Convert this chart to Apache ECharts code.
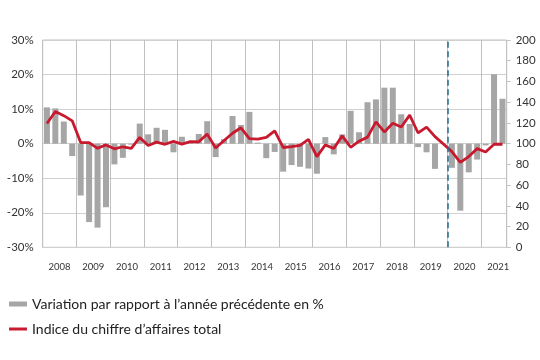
<!DOCTYPE html>
<html>
<head>
<meta charset="utf-8">
<script src="https://cdn.jsdelivr.net/npm/echarts@6/dist/echarts.min.js"></script>
<style>html,body{margin:0;padding:0;background:#fff;}#c{width:540px;height:360px;}</style>
</head>
<body>
<div id="c"></div>
<script>
const years = ['2008','2009','2010','2011','2012','2013','2014','2015','2016','2017','2018','2019','2020','2021'];
const quarters = [];
years.forEach(y => { for (let q = 1; q <= 4; q++) { if (y === '2021' && q > 3) break; quarters.push(y + '-T' + q); } });

const barName = 'Variation par rapport à l’année précédente en %';
const lineName = 'Indice du chiffre d’affaires total';

const changePct = [
  10.5, 10.2, 6.4, -3.6,
  -15.0, -22.7, -24.3, -18.4,
  -6.0, -4.1, -0.3, 5.8,
  2.7, 4.6, 4.0, -2.5,
  2.0, 0.2, 2.8, 6.5,
  -3.9, 1.3, 8.0, 5.4,
  9.2, 0.3, -4.2, -2.4,
  -8.1, -6.2, -6.7, -7.2,
  -8.7, 1.9, -3.1, 2.7,
  9.5, 3.3, 12.0, 12.8,
  16.2, 16.2, 8.5, 5.7,
  -1.0, -2.5, -7.3, 0,
  -7.0, -19.4, -8.3, -4.6,
  -0.5, 20.1, 13.0
];

const turnoverIndex = [
  119.5, 131, 127, 122,
  101, 101, 95.5, 98.8,
  95, 97, 95.5, 106,
  98.2, 101.5, 99.4, 102.2,
  99.6, 102, 101.8, 109.2,
  95.8, 103, 110, 115.3,
  104.8, 104.3, 106, 112.4,
  96.3, 97.1, 98.4, 104.2,
  87.5, 98.8, 95.3, 107.5,
  96.5, 102.4, 106.3, 121,
  111.3, 119.6, 116, 127.5,
  110.3, 116, 106.8, 99.7,
  92.3, 82, 87.5, 95.2,
  92, 99.4, 99.4
];

const pctTicks = { min: -30, max: 30, step: 10 };
const idxTicks = { min: 0, max: 200, step: 20 };
const breakQuarterIndex = 48; // start of 2020

const font = 'Lato';
const chart = echarts.init(document.getElementById('c'), null, { renderer: 'canvas' });
chart.setOption({
  animation: false,
  backgroundColor: '#fff',
  textStyle: { fontFamily: font },
  grid: { left: 42.7, right: 33.3, top: 40, bottom: 112.7, show: true, borderColor: '#c0c0c0', borderWidth: 1 },
  legend: [
    { orient: 'vertical', left: 4, top: 292, itemWidth: 18, itemHeight: 5, itemGap: 10,
      textStyle: { fontFamily: font, fontSize: 14, color: '#222' },
      data: [{ name: barName, icon: 'rect' }] },
    { orient: 'vertical', left: 4, top: 317, itemWidth: 18, itemHeight: 3, itemGap: 10,
      textStyle: { fontFamily: font, fontSize: 14, color: '#222' },
      data: [{ name: lineName, icon: 'rect' }] }
  ],
  xAxis: [
    {
      type: 'category', data: quarters, boundaryGap: true,
      axisLine: { show: false }, axisTick: { show: false },
      splitLine: { show: true, interval: (i) => i % 4 === 0, lineStyle: { color: '#c0c0c0', width: 1 } },
      axisLabel: {
        interval: (i) => i % 4 === 1,
        formatter: (v) => v.slice(0, 4),
        fontSize: 9.5, color: '#333', margin: 15, padding: [0, 0, 0, 8.4]
      }
    },
    { type: 'value', min: 0, max: quarters.length, show: false }
  ],
  yAxis: [
    {
      type: 'value', min: pctTicks.min, max: pctTicks.max, interval: pctTicks.step,
      axisLine: { show: false }, axisTick: { show: false },
      splitLine: { lineStyle: { color: '#d0d0d0', width: 1 } },
      axisLabel: { formatter: '{value}%', fontSize: 11.5, color: '#333', margin: 9 }
    },
    {
      type: 'value', min: idxTicks.min, max: idxTicks.max, interval: idxTicks.step, position: 'right',
      axisLine: { show: false }, axisTick: { show: true, length: 4, lineStyle: { color: '#c4c4c4' } },
      splitLine: { show: false },
      axisLabel: { fontSize: 11.5, color: '#333', margin: 9 }
    }
  ],
  series: [
    { name: barName, type: 'bar', data: changePct, xAxisIndex: 0, yAxisIndex: 0,
      barWidth: 6, itemStyle: { color: '#a6a6a6' } },
    { name: lineName, type: 'line', data: turnoverIndex, xAxisIndex: 0, yAxisIndex: 1,
      symbol: 'none', lineStyle: { color: '#c8192e', width: 2.8 }, itemStyle: { color: '#c8192e' } },
    { name: 'break', type: 'line', xAxisIndex: 1, yAxisIndex: 0, data: [],
      markLine: { silent: true, symbol: 'none', label: { show: false },
        lineStyle: { type: [6, 3.5], color: '#2c7392', width: 1.6 },
        data: [{ xAxis: breakQuarterIndex }] } }
  ]
});
</script>
</body>
</html>
